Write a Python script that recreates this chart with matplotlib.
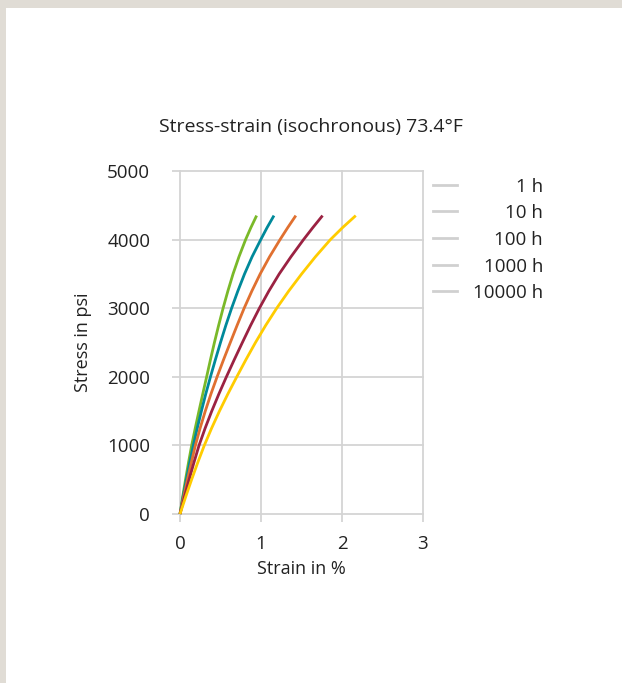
import matplotlib.pyplot as plt
from matplotlib.lines import Line2D
from matplotlib.patches import Rectangle

plt.rcParams['font.family'] = ['Open Sans', 'DejaVu Sans']

stress = [0, 250, 500, 750, 1000, 1250, 1500, 1750, 2000, 2250, 2500,
          2750, 3000, 3250, 3500, 3750, 4000, 4175, 4350]

# Strain in % for each isochronous curve
strain_1h = [0, 0.033, 0.068, 0.105, 0.144, 0.188, 0.234, 0.281, 0.329,
             0.376, 0.425, 0.477, 0.532, 0.591, 0.655, 0.728, 0.810, 0.875, 0.946]
strain_10h = [0, 0.038, 0.078, 0.120, 0.165, 0.213, 0.264, 0.318, 0.376,
              0.437, 0.500, 0.566, 0.637, 0.714, 0.797, 0.890, 0.997, 1.075, 1.16]
strain_100h = [0, 0.045, 0.092, 0.140, 0.190, 0.248, 0.312, 0.382, 0.458,
               0.538, 0.621, 0.705, 0.792, 0.887, 0.990, 1.106, 1.235, 1.330, 1.43]
strain_1000h = [0, 0.055, 0.112, 0.172, 0.235, 0.310, 0.392, 0.480, 0.573,
                0.670, 0.770, 0.872, 0.980, 1.097, 1.225, 1.370, 1.525, 1.640, 1.76]
strain_10000h = [0, 0.070, 0.143, 0.219, 0.300, 0.390, 0.487, 0.591, 0.701,
                 0.814, 0.932, 1.058, 1.194, 1.342, 1.502, 1.672, 1.857, 2.007, 2.17]

labels = ['1 h', '10 h', '100 h', '1000 h', '10000 h']
colors = ['#7ab929', '#00899a', '#e07030', '#9b2242', '#ffcc00']
series = [strain_1h, strain_10h, strain_100h, strain_1000h, strain_10000h]

x_ticks = [0, 1, 2, 3]
y_ticks = [0, 1000, 2000, 3000, 4000, 5000]

W, H = 622, 683
fig = plt.figure(figsize=(W / 100, H / 100), dpi=100)
fig.patch.set_facecolor('white')

# beige frame on top and left
frame = '#e0dcd5'
fig.add_artist(Rectangle((0, 1 - 8 / H), 1, 8 / H, transform=fig.transFigure,
                         facecolor=frame, edgecolor='none'))
fig.add_artist(Rectangle((0, 0), 6 / W, 1, transform=fig.transFigure,
                         facecolor=frame, edgecolor='none'))

ax = fig.add_axes([180 / W, 1 - 514 / H, 243 / W, 343 / H])

grid_col = '#d4d4d4'
txt_col = '#222222'
for s, c in zip(series, colors):
    ax.plot(s, stress, color=c, lw=2, clip_on=False, zorder=3,
            solid_capstyle='butt', solid_joinstyle='round')

ax.set_xlim(0, 3)
ax.set_ylim(0, 5000)
ax.set_xticks(x_ticks)
ax.set_yticks(y_ticks)
ax.grid(True, color=grid_col, lw=1.3)
for gl in ax.get_xgridlines() + ax.get_ygridlines():
    gl.set_clip_on(False)
for sp in ax.spines.values():
    sp.set_visible(False)
ax.tick_params(length=6, width=1.3, color=grid_col, labelsize=13.5,
               labelcolor=txt_col)
ax.tick_params(axis='x', pad=9)
ax.tick_params(axis='y', pad=15.5)

ax.set_xlabel('Strain in %', fontsize=13, color=txt_col, labelpad=5)
ax.set_ylabel('Stress in psi', fontsize=13, color=txt_col, labelpad=11)

fig.text(0.5, 1 - 127 / H, 'Stress-strain (isochronous) 73.4°F',
         ha='center', va='center', fontsize=14, color=txt_col)

# legend with grey keys and right-aligned labels
leg_y = [185, 211.5, 238, 264.5, 291]
for y, lab in zip(leg_y, labels):
    fig.add_artist(Line2D([433 / W, 457 / W], [1 - y / H, 1 - y / H],
                          transform=fig.transFigure, color='#d0d0d0', lw=2))
    fig.text(543 / W, 1 - (y + 2) / H, lab, ha='right', va='center',
             fontsize=13.5, color=txt_col)

fig.savefig('out.png', dpi=100)
